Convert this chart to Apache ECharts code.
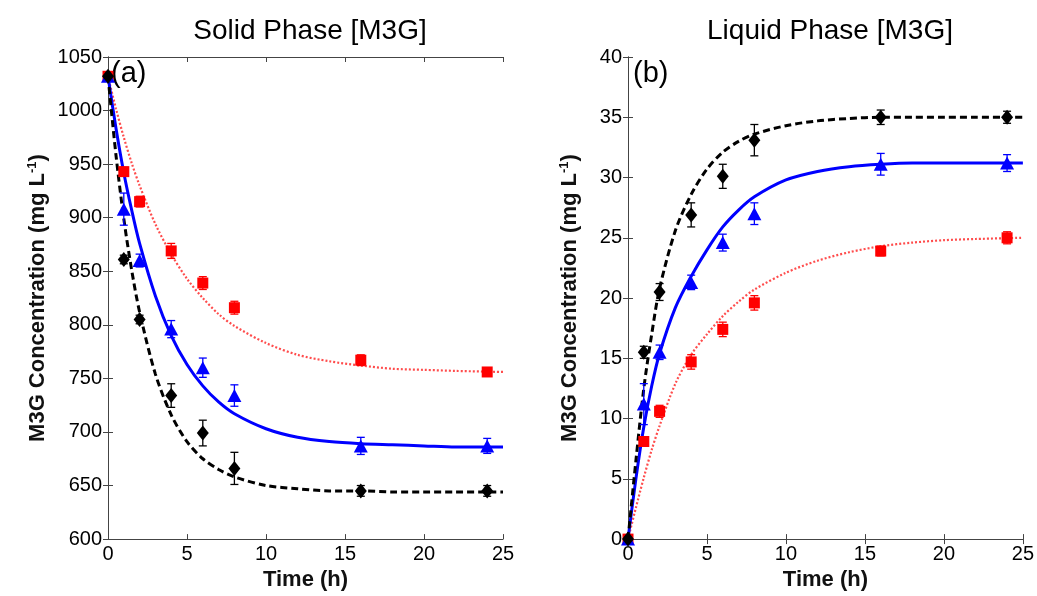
<!DOCTYPE html>
<html>
<head>
<meta charset="utf-8">
<script src="https://cdn.jsdelivr.net/npm/echarts@6/dist/echarts.min.js"></script>
<style>
  html, body { margin: 0; padding: 0; background: #fff; }
  #chart { width: 1037px; height: 596px; }
</style>
</head>
<body>
<div id="chart"></div>
<script>
// sampling times (h)
const times = [0, 1, 2, 4, 6, 8, 16, 24];
const curveTimes = [0, 0.5, 1, 1.5, 2, 3, 4, 5, 6, 7, 8, 10, 12, 14, 16, 18, 20, 22, 25];

// (a) solid phase, mg/L
const solidBlack = [1032, 861, 805, 734, 699, 666, 645, 645];
const solidBlue = [1032, 908, 860, 796, 760, 734, 687, 687];
const solidRed = [1032, 943, 915, 869, 839, 816, 767, 756];
const solidBlackErr = [3, 4, 4, 11, 12, 15, 5, 5];
const solidBlueErr = [3, 15, 6, 8, 9, 10, 8, 7];
const solidRedErr = [3, 4, 5, 7, 6, 6, 5, 3];
const solidBlackFit = [1032, 959, 899, 851, 812, 754, 716, 691, 675, 665, 658, 650, 647, 645, 645, 644, 644, 644, 644];
const solidBlueFit = [1032, 984, 942, 907, 876, 827, 790, 763, 743, 728, 717, 703, 695, 691, 689, 688, 687, 686, 686];
const solidRedFit = [1032, 1002, 975, 951, 930, 894, 866, 843, 825, 810, 799, 783, 772, 766, 762, 759, 758, 757, 756];

// (b) liquid phase, mg/L
const liquidBlack = [0, 15.5, 20.5, 26.9, 30.1, 33.1, 35.0, 35.0];
const liquidBlue = [0, 11.2, 15.5, 21.3, 24.6, 27.0, 31.1, 31.2];
const liquidRed = [0, 8.1, 10.6, 14.7, 17.4, 19.6, 23.9, 25.0];
const liquidBlackErr = [0.2, 0.5, 0.7, 1.0, 1.0, 1.3, 0.6, 0.5];
const liquidBlueErr = [0.2, 1.7, 0.6, 0.6, 0.7, 0.9, 0.9, 0.7];
const liquidRedErr = [0.2, 0.4, 0.5, 0.6, 0.6, 0.6, 0.4, 0.5];
const liquidBlackFit = [0, 6.5, 12.5, 17, 20.8, 25.6, 28.6, 30.7, 32.1, 33.0, 33.6, 34.3, 34.7, 34.9, 35, 35, 35, 35, 35];
const liquidBlueFit = [0, 5, 9.3, 12.7, 15.4, 19.2, 21.8, 24.0, 25.9, 27.3, 28.4, 29.8, 30.5, 30.9, 31.1, 31.2, 31.2, 31.2, 31.2];
const liquidRedFit = [0, 2.6, 5.1, 7.4, 9.4, 12.9, 15.3, 17.0, 18.5, 19.7, 20.7, 22.1, 23.1, 23.8, 24.3, 24.6, 24.8, 24.9, 25.0];

const FONT = "Liberation Sans, Arial, sans-serif";
const BLACK = "#000000";
const BLUE = "#0000ff";
const RED = "#ff0000";

const chart = echarts.init(document.getElementById("chart"));

const pairs = (xs, ys) => xs.map((x, i) => [x, ys[i]]);
const bars = (xs, ys, es) => xs.map((x, i) => [x, ys[i] - es[i], ys[i] + es[i]]);

const errRender = (color) => (params, api) => {
  const lo = api.coord([api.value(0), api.value(1)]);
  const hi = api.coord([api.value(0), api.value(2)]);
  const w = 4;
  const style = { stroke: color, lineWidth: 1.3 };
  return {
    type: "group",
    children: [
      { type: "line", shape: { x1: lo[0], y1: lo[1], x2: hi[0], y2: hi[1] }, style },
      { type: "line", shape: { x1: lo[0] - w, y1: lo[1], x2: lo[0] + w, y2: lo[1] }, style },
      { type: "line", shape: { x1: hi[0] - w, y1: hi[1], x2: hi[0] + w, y2: hi[1] }, style },
    ],
  };
};

const axisLine = { show: true, lineStyle: { color: "#444", width: 1 } };
const tickIn = { show: true, inside: true, length: 5, lineStyle: { color: "#444" } };
const labelStyle = { color: "#000", fontFamily: FONT, fontSize: 20, formatter: (v) => String(v) };
const nameStyle = { color: "#111", fontFamily: FONT, fontSize: 22, fontWeight: "bold" };

const makeX = (gi) => [
  {
    gridIndex: gi, type: "value", min: 0, max: 25, interval: 5,
    axisLine, axisTick: tickIn, splitLine: { show: false },
    axisLabel: { ...labelStyle, margin: 5 },
    name: "Time (h)", nameLocation: "middle", nameGap: 27, nameTextStyle: nameStyle,
  },
  {
    gridIndex: gi, type: "value", position: "top", min: 0, max: 25, interval: 5,
    axisLine, axisTick: tickIn, axisLabel: { show: false }, splitLine: { show: false },
  },
];

const yName = "M3G Concentration (mg L{sup|-1})";
const makeY = (gi, min, max, step, gap) => [
  {
    gridIndex: gi, type: "value", min, max, interval: step,
    axisLine, axisTick: tickIn, splitLine: { show: false },
    axisLabel: { ...labelStyle, margin: 6 },
    name: yName, nameLocation: "middle", nameGap: gap, nameRotate: 90,
    nameTextStyle: {
      ...nameStyle,
      rich: { sup: { fontSize: 13, fontWeight: "bold", fontFamily: FONT, color: "#111", verticalAlign: "top", padding: [0, 0, 10, 0] } },
    },
  },
  {
    gridIndex: gi, type: "value", position: "right", min, max, interval: step,
    axisLine, axisTick: tickIn, axisLabel: { show: false }, splitLine: { show: false },
  },
];

const groups = [
  { gi: 0, pts: [solidBlack, solidBlue, solidRed], errs: [solidBlackErr, solidBlueErr, solidRedErr], fits: [solidBlackFit, solidBlueFit, solidRedFit] },
  { gi: 1, pts: [liquidBlack, liquidBlue, liquidRed], errs: [liquidBlackErr, liquidBlueErr, liquidRedErr], fits: [liquidBlackFit, liquidBlueFit, liquidRedFit] },
];
const looks = [
  { color: BLACK, symbol: "diamond", size: [12, 15], line: { type: [7, 4], width: 3 } },
  { color: BLUE, symbol: "triangle", size: [14, 13], line: { type: "solid", width: 3 } },
  { color: RED, symbol: "rect", size: [11, 11], line: { type: [2, 2], width: 2.2, opacity: 0.7 } },
];

const series = [];
groups.forEach((g) => {
  const xi = g.gi * 2, yi = g.gi * 2;
  // fitted curves under the data
  [2, 1, 0].forEach((k) => {
    series.push({
      type: "line", xAxisIndex: xi, yAxisIndex: yi, data: pairs(curveTimes, g.fits[k]),
      smooth: 0.3, showSymbol: false, symbol: "none", z: 2,
      lineStyle: { color: looks[k].color, ...looks[k].line },
    });
  });
  [2, 1, 0].forEach((k) => {
    series.push({
      type: "custom", xAxisIndex: xi, yAxisIndex: yi, renderItem: errRender(looks[k].color),
      data: bars(times, g.pts[k], g.errs[k]), z: 3,
    });
    series.push({
      type: "scatter", xAxisIndex: xi, yAxisIndex: yi, data: pairs(times, g.pts[k]),
      symbol: looks[k].symbol, symbolSize: looks[k].size, z: 4,
      itemStyle: { color: looks[k].color, opacity: 1 },
    });
  });
});

const titleStyle = { fontFamily: FONT, fontSize: 28, fontWeight: "normal", color: "#000" };

const option = {
  animation: false,
  backgroundColor: "#fff",
  title: [
    { text: "Solid Phase [M3G]", left: 305, top: 12, textAlign: "center", textStyle: titleStyle },
    { text: "Liquid Phase [M3G]", left: 825, top: 12, textAlign: "center", textStyle: titleStyle },
  ],
  grid: [
    { left: 108, top: 57, width: 395, height: 483 },
    { left: 628, top: 57, width: 395, height: 483 },
  ],
  xAxis: [...makeX(0), ...makeX(1)],
  yAxis: [...makeY(0, 600, 1050, 50, 59), ...makeY(1, 0, 40, 5, 47)],
  graphic: [
    { type: "text", left: 111, top: 59, style: { text: "(a)", font: "29px " + FONT, fill: "#000" } },
    { type: "text", left: 633, top: 59, style: { text: "(b)", font: "29px " + FONT, fill: "#000" } },
  ],
  series,
};

chart.setOption(option);
</script>
</body>
</html>
